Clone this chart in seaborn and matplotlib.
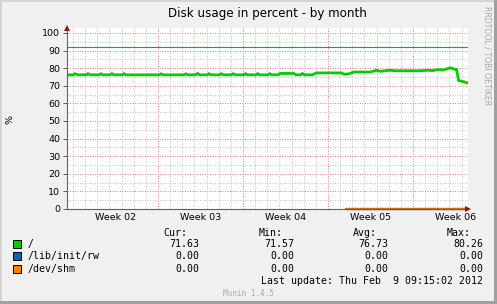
import matplotlib
matplotlib.use("Agg")
import matplotlib.pyplot as plt
from matplotlib.patches import Rectangle
import seaborn as sns
import pandas as pd
import numpy as np

# ---------------- data ----------------
title = "Disk usage in percent - by month"
week_labels = ["Week 02", "Week 03", "Week 04", "Week 05", "Week 06"]
week_label_days = [4, 11, 18, 25, 32]
week_start_days = [7.5, 14.5, 21.5, 28.5]

root_days = [0, 0.5, 0.66, 0.85, 1.6, 1.73, 1.9, 2.65, 2.8, 2.95, 3.55, 3.7, 3.85,
             4.55, 4.7, 4.85, 7.6, 7.74, 7.9, 9.65, 9.8, 9.95, 10.55, 10.75, 10.95,
             11.55, 11.7, 11.85, 12.55, 12.7, 12.85, 13.55, 13.7, 13.85, 14.55, 14.7,
             14.85, 15.55, 15.7, 15.85, 16.55, 16.7, 16.85, 17.4, 17.55, 18.7, 18.85,
             19.25, 19.4, 19.55, 20.2, 20.55, 22.6, 22.8, 23.0, 23.3, 23.6, 25.0, 25.5,
             25.8, 26.6, 27.0, 29.1, 29.7, 30.1, 30.6, 31.0, 31.6, 31.95, 32.1, 32.25,
             32.6, 33.0]
root_values = [76.2, 76.2, 76.9, 76.2, 76.2, 76.9, 76.2, 76.2, 76.8, 76.2, 76.2, 76.9, 76.2,
               76.2, 76.9, 76.2, 76.2, 76.8, 76.2, 76.2, 76.8, 76.2, 76.2, 77.0, 76.2,
               76.2, 76.9, 76.2, 76.2, 76.9, 76.2, 76.2, 76.9, 76.2, 76.2, 76.9,
               76.2, 76.2, 76.9, 76.2, 76.2, 76.9, 76.2, 76.2, 77.0, 77.0, 76.2,
               76.2, 77.0, 76.2, 76.2, 77.3, 77.3, 76.6, 76.6, 76.9, 77.8, 77.8, 78.8,
               78.2, 78.8, 78.5, 78.5, 78.8, 78.6, 79.2, 79.0, 80.2, 79.3, 79.3, 73.0,
               72.4, 71.6]
zero_days = [23.0, 33.0]
rw_values = [0.0, 0.0]
shm_values = [0.0, 0.0]
warning_level = 92

series_names = ["/", "/lib/init/rw", "/dev/shm"]
series_colors = ["#00CC00", "#0066B3", "#FF8000"]
cur_vals = ["71.63", "0.00", "0.00"]
min_vals = ["71.57", "0.00", "0.00"]
avg_vals = ["76.73", "0.00", "0.00"]
max_vals = ["80.26", "0.00", "0.00"]
last_update = "Last update: Thu Feb  9 09:15:02 2012"
munin_version = "Munin 1.4.5"
side_text = "RRDTOOL / TOBI OETIKER"

# ---------------- figure ----------------
W, H = 497, 304
sns.set_style("white")
plt.rcParams['font.family'] = ['DejaVu Sans']
fig = plt.figure(figsize=(W / 100, H / 100), dpi=100, facecolor="#f0f0f0")

def fx(px):
    return px / W

def fy(py):
    return 1 - py / H

# borders
fig.add_artist(Rectangle((0, fy(2)), 1, 2 / H, transform=fig.transFigure, color="#d4d4d4", lw=0))
fig.add_artist(Rectangle((0, 0), 2 / W, 1, transform=fig.transFigure, color="#d4d4d4", lw=0))
fig.add_artist(Rectangle((0, 0), 1, 3 / H, transform=fig.transFigure, color="#a0a0a0", lw=0))
fig.add_artist(Rectangle((1 - 3 / W, 0), 3 / W, 1, transform=fig.transFigure, color="#a0a0a0", lw=0))

ax_left, ax_right, ax_top, ax_bottom = 67, 467.6, 28, 209
ax = fig.add_axes([fx(ax_left), fy(ax_bottom), (ax_right - ax_left) / W, (ax_bottom - ax_top) / H])
ax.set_facecolor("white")
ax.set_xlim(0, 33)
ax.set_ylim(0, 102.8)

# grid
gkw = dict(lw=0.72, ls=(0, (1, 1.5)))
minor_x = [d + 0.5 for d in range(33) if (d + 0.5) not in week_start_days]
for xv in minor_x:
    ax.axvline(xv, color="#c4c4c4", zorder=0, **gkw)
for yv in range(5, 100, 10):
    ax.axhline(yv, color="#c4c4c4", zorder=0, **gkw)
for xv in week_start_days:
    ax.axvline(xv, color="#f08080", zorder=0.5, **gkw)
for yv in range(10, 101, 10):
    ax.axhline(yv, color="#f08080", zorder=0.5, **gkw)

# data
df_root = pd.DataFrame({"day": root_days, "pct": root_values})
sns.lineplot(data=df_root, x="day", y="pct", ax=ax, color=series_colors[0], lw=2.0, zorder=3)
df_rw = pd.DataFrame({"day": zero_days, "pct": rw_values})
sns.lineplot(data=df_rw, x="day", y="pct", ax=ax, color=series_colors[1], lw=1.6, zorder=3, clip_on=False)
df_shm = pd.DataFrame({"day": zero_days, "pct": shm_values})
sns.lineplot(data=df_shm, x="day", y="pct", ax=ax, color="#d07010", lw=1.6, zorder=3.1, clip_on=False)
ax.axhline(warning_level, color="#10b010", lw=0.8, zorder=2)

# axes
for s in ["top", "right"]:
    ax.spines[s].set_visible(False)
for s in ["left", "bottom"]:
    ax.spines[s].set_color("#606060")
    ax.spines[s].set_linewidth(0.8)
    ax.spines[s].set_zorder(4)
ax.plot([1.0], [0], marker=">", color="#8b1a1a", ms=4.5, transform=ax.transAxes, clip_on=False, zorder=5, mew=0)
ax.plot([0], [1.0], marker="^", color="#8b1a1a", ms=4.5, transform=ax.transAxes, clip_on=False, zorder=5, mew=0)

ax.set_yticks(range(0, 101, 10))
ax.set_yticklabels([str(v) for v in range(0, 101, 10)])
ax.set_xticks(week_label_days)
ax.set_xticklabels(week_labels)
ax.tick_params(axis="y", length=3, width=0.7, color="#606060", pad=2, labelsize=6.8, labelcolor="black", left=True)
ax.tick_params(axis="x", length=0, pad=3, labelsize=6.8, labelcolor="black", bottom=True)
ax.set_xlabel("")
ax.set_ylabel("")

# texts
fig.text(fx(267), fy(14), title, ha="center", va="center", fontsize=8.6, color="black")
fig.text(fx(10), fy(120), "%", ha="center", va="center", fontsize=6.8, rotation=90, color="black")
fig.text(fx(487), fy(56), side_text, ha="center", va="center", fontsize=5.6, rotation=270, color="#a8a8a8")

mono = "DejaVu Sans Mono"
fs = 7.1
header_y = 232.7
row_y = [243.7, 256.3, 269.0]
for lbl, lx in zip(["Cur:", "Min:", "Avg:", "Max:"], [163, 259, 353, 447]):
    fig.text(fx(lx), fy(header_y), lbl, ha="left", va="center", family=mono, fontsize=fs, color="black")
for i, name in enumerate(series_names):
    y = row_y[i]
    fig.add_artist(Rectangle((fx(13), fy(y + 4)), 8 / W, 8 / H, transform=fig.transFigure,
                             facecolor=series_colors[i], edgecolor="black", lw=0.7))
    fig.text(fx(27), fy(y), name, ha="left", va="center", family=mono, fontsize=fs, color="black")
    for vals, rx in zip([cur_vals, min_vals, avg_vals, max_vals], [199.5, 294, 388.5, 483]):
        fig.text(fx(rx), fy(y), vals[i], ha="right", va="center", family=mono, fontsize=fs, color="black")
fig.text(fx(483), fy(280.7), last_update, ha="right", va="center", family=mono, fontsize=fs, color="black")
fig.text(fx(248.5), fy(294), munin_version, ha="center", va="center", family=mono, fontsize=5.6, color="#a8a8a8")

fig.savefig("out.png", dpi=100, facecolor=fig.get_facecolor())
